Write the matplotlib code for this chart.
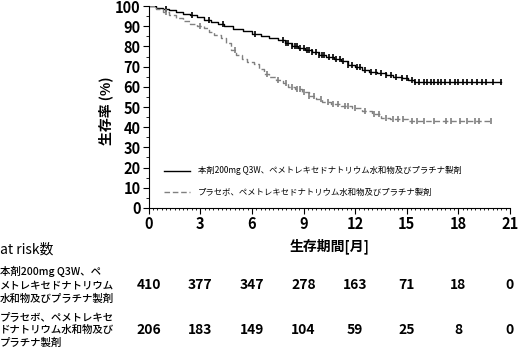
import numpy as np
import matplotlib
matplotlib.use('Agg')
import matplotlib.pyplot as plt

plt.rcParams['font.family'] = ['Noto Sans CJK JP', 'DejaVu Sans']

# KM曲線 (月, %)
black_t = [0, 0.4, 0.8, 1.2, 1.6, 2.0, 2.4, 2.8, 3.2, 3.6, 4.0, 4.4, 4.9, 5.5, 6.0, 6.5,
           7.0, 7.5, 7.9, 8.3, 8.7, 9.1, 9.5, 9.9, 10.3, 10.8, 11.2, 11.6, 12.0, 12.4,
           12.8, 13.3, 13.8, 14.2, 14.7, 15.1, 15.4, 20.5]
black_s = [100, 99.3, 98.6, 97.9, 97.2, 96.3, 95.4, 94.4, 93.3, 92.3, 91.3, 90.0, 88.8,
           87.6, 86.0, 85.3, 84.3, 83.2, 81.5, 80.2, 79.2, 78.3, 77.2, 75.8, 75.0, 74.0,
           72.6, 71.0, 69.8, 68.5, 67.6, 66.9, 66.0, 65.0, 64.2, 63.4, 62.5, 62.5]
black_cens = [1.0, 2.5, 3.5, 4.3, 6.2, 7.8, 8.0, 8.1, 8.3, 8.5, 8.6, 8.8, 9.0, 9.2, 9.3,
              9.5, 9.7, 9.9, 10.1, 10.2, 10.5, 10.7, 10.9, 11.1, 11.3, 11.6, 11.8, 12.1,
              12.3, 12.6, 12.9, 13.2, 13.5, 13.8, 14.1, 14.4, 14.7, 15.0, 15.3, 15.5,
              15.7, 16.0, 16.2, 16.4, 16.6, 16.8, 17.0, 17.2, 17.5, 17.8, 18.0, 18.3,
              18.5, 18.8, 19.1, 19.4, 19.6, 20.0, 20.5]

gray_t = [0, 0.4, 0.8, 1.2, 1.6, 2.0, 2.4, 2.8, 3.2, 3.5, 3.8, 4.2, 4.5, 4.8, 5.1, 5.4,
          5.7, 6.1, 6.4, 6.7, 7.0, 7.4, 7.8, 8.1, 8.5, 8.9, 9.3, 9.7, 10.1, 10.6, 11.2,
          11.8, 12.4, 13.0, 13.5, 14.0, 15.1, 19.9]
gray_s = [100, 98.5, 97, 95.5, 94, 92.5, 91.2, 90.3, 89.0, 87.0, 85.7, 84.0, 81.5, 78.5,
          76.0, 74.0, 72.5, 71.5, 69.0, 66.5, 65.0, 63.5, 62.0, 60.0, 58.8, 57.5, 55.5,
          54.0, 52.5, 51.5, 50.5, 49.5, 48.0, 46.5, 44.5, 44.2, 43.0, 43.0]
gray_cens = [1.0, 3.0, 5.0, 6.9, 7.5, 8.0, 8.3, 8.6, 8.8, 9.0, 9.3, 9.6, 10.0, 10.4, 10.7,
             11.0, 11.4, 11.6, 12.0, 12.6, 13.1, 13.4, 13.8, 14.2, 14.5, 14.8, 15.3,
             15.6, 16.0, 16.6, 17.3, 17.6, 18.1, 18.5, 19.0, 19.2, 19.9]

labels = ['本剤200mg Q3W、ペメトレキセドナトリウム水和物及びプラチナ製剤',
          'プラセボ、ペメトレキセドナトリウム水和物及びプラチナ製剤']
row_labels = ['本剤200mg Q3W、ペ\nメトレキセドナトリウム\n水和物及びプラチナ製剤',
              'プラセボ、ペメトレキセ\nドナトリウム水和物及び\nプラチナ製剤']
risk_times = [0, 3, 6, 9, 12, 15, 18, 21]
risk_black = [410, 377, 347, 278, 163, 71, 18, 0]
risk_gray = [206, 183, 149, 104, 59, 25, 8, 0]


def surv_at(t, ts, ss):
    idx = np.searchsorted(ts, t, side='right') - 1
    return np.array(ss)[idx]


fig = plt.figure(figsize=(5.24, 3.61), dpi=100)
ax = fig.add_axes([0.284, 0.424, 0.689, 0.559])

ax.step(black_t, black_s, where='post', color='black', lw=1.0, label=labels[0])
ax.plot(black_cens, surv_at(black_cens, black_t, black_s), ls='none', marker='|',
        color='black', ms=4, mew=1.2)
ax.step(gray_t, gray_s, where='post', color='#808080', lw=1.0, ls=(0, (4, 2)),
        label=labels[1])
ax.plot(gray_cens, surv_at(gray_cens, gray_t, gray_s), ls='none', marker='|',
        color='#808080', ms=4, mew=1.2)

ax.set_xlim(0, 21)
ax.set_ylim(0, 100)
ax.set_xticks(risk_times)
ax.set_xticks(np.arange(0, 21.01, 0.25), minor=True)
ax.set_yticks(range(0, 101, 10))
ax.set_yticks(range(0, 101, 5), minor=True)
ax.spines['top'].set_visible(False)
ax.spines['right'].set_visible(False)
ax.tick_params(which='major', length=4, labelsize=10.5, pad=2)
ax.tick_params(axis='x', which='minor', length=1.5, width=0.6)
ax.tick_params(axis='y', which='minor', length=2.5)
for lab in ax.get_xticklabels() + ax.get_yticklabels():
    lab.set_fontweight('bold')
ax.set_ylabel('生存率 (%)', fontsize=10, fontweight='bold')
ax.yaxis.set_label_coords(-0.098, 0.48)
ax.set_xlabel('生存期間[月]', fontsize=10, fontweight='bold')
ax.xaxis.set_label_coords(0.5, -0.15)

ax.legend(loc='lower left', bbox_to_anchor=(0.02, 0.015), frameon=False, fontsize=6,
          handlelength=3.2, labelspacing=1.55, handletextpad=0.9)

# at risk 表
fig.text(0.0, 1 - 250 / 361, 'at risk数', fontsize=10, va='center', ha='left')
fig.text(0.0, 1 - 285 / 361, row_labels[0], fontsize=7.5, va='center', ha='left',
         linespacing=1.4, fontweight='medium')
fig.text(0.0, 1 - 330 / 361, row_labels[1], fontsize=7.5, va='center', ha='left',
         linespacing=1.4, fontweight='medium')
for t, a, b in zip(risk_times, risk_black, risk_gray):
    xf = fig.transFigure.inverted().transform(ax.transData.transform((t, 0)))[0]
    fig.text(xf, 1 - 285 / 361, str(a), fontsize=10, ha='center', va='center',
             fontweight='bold')
    fig.text(xf, 1 - 330 / 361, str(b), fontsize=10, ha='center', va='center',
             fontweight='bold')

fig.savefig('out.png', dpi=100)
